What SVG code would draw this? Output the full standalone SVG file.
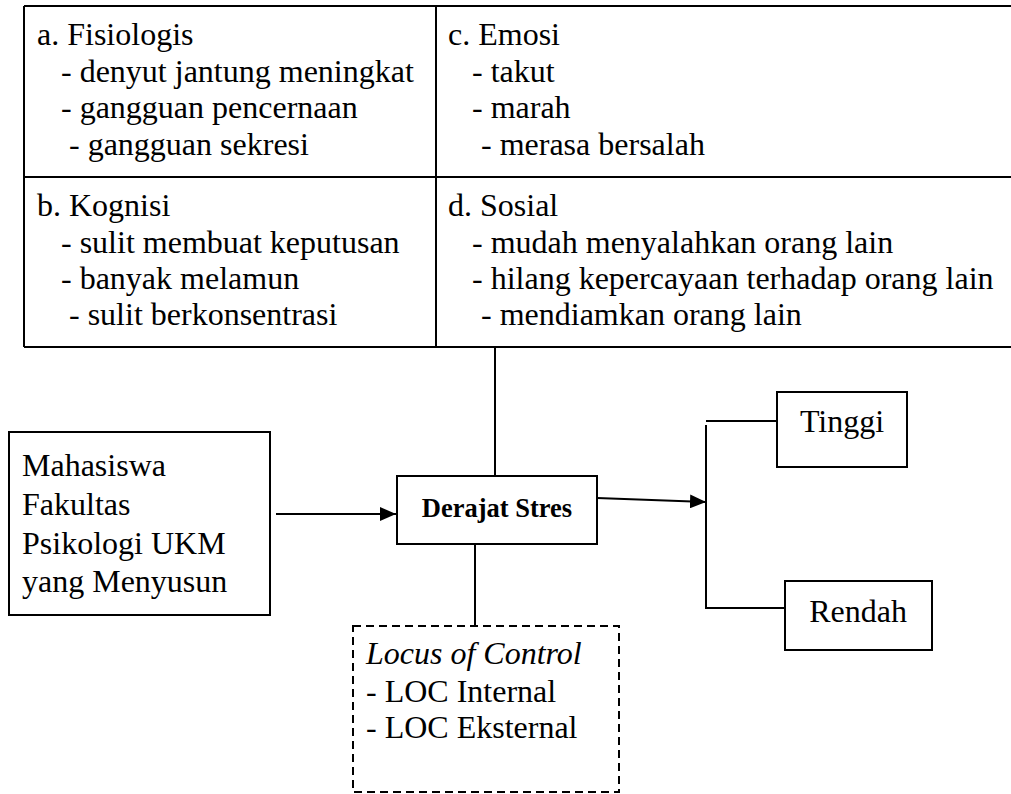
<svg xmlns="http://www.w3.org/2000/svg" width="1011" height="794" viewBox="0 0 1011 794" font-family="Liberation Serif, Times New Roman, serif">
<style>
text{font-family:'Liberation Serif','Times New Roman',Times,serif;font-size:32px;fill:#000}
.b{font-weight:bold;font-size:26.5px}
.i{font-style:italic}
.box{fill:#fff;stroke:#000;stroke-width:2}
.dash{fill:#fff;stroke:#000;stroke-width:2;stroke-dasharray:8 5}
.ln{fill:none;stroke:#000;stroke-width:2}
</style>
<defs>
<marker id="ah" viewBox="0 0 16 14" refX="16" refY="7" markerWidth="16" markerHeight="14" markerUnits="userSpaceOnUse" orient="auto">
<path d="M0,0 L16,7 L0,14 Z" fill="#000"/>
</marker>
</defs>
<rect width="1011" height="794" fill="#fff"/>
<g id="table">
<path class="ln" d="M24,6 H1011 M24,177 H1011 M24,347 H1011 M24,6 V347 M436,6 V347" stroke-width="2.5"/>
</g>
<g id="fisiologis">
<text x="37" y="45">a. Fisiologis</text>
<text x="61" y="82">- denyut jantung meningkat</text>
<text x="61" y="118">- gangguan pencernaan</text>
<text x="69" y="155">- gangguan sekresi</text>
</g>
<g id="kognisi">
<text x="37" y="216">b. Kognisi</text>
<text x="61" y="253">- sulit membuat keputusan</text>
<text x="61" y="289">- banyak melamun</text>
<text x="69" y="325">- sulit berkonsentrasi</text>
</g>
<g id="emosi">
<text x="448" y="45">c. Emosi</text>
<text x="472" y="82">- takut</text>
<text x="472" y="118">- marah</text>
<text x="481" y="155">- merasa bersalah</text>
</g>
<g id="sosial">
<text x="448" y="216">d. Sosial</text>
<text x="472" y="253">- mudah menyalahkan orang lain</text>
<text x="472" y="289">- hilang kepercayaan terhadap orang lain</text>
<text x="481" y="325">- mendiamkan orang lain</text>
</g>
<g id="connectors">
<line class="ln" x1="495" y1="347" x2="495" y2="476"/>
<line class="ln" x1="276" y1="514" x2="396" y2="514" marker-end="url(#ah)"/>
<line class="ln" x1="597" y1="498" x2="706" y2="502" marker-end="url(#ah)"/>
<line class="ln" x1="475" y1="544" x2="475" y2="626"/>
<line class="ln" x1="706" y1="421" x2="777" y2="421"/>
<polyline class="ln" points="706,425 706,608 785,608"/>
</g>
<g id="mahasiswa">
<rect class="box" x="9" y="432" width="261" height="183"/>
<text x="22" y="476">Mahasiswa</text>
<text x="22" y="515">Fakultas</text>
<text x="22" y="554">Psikologi UKM</text>
<text x="22" y="592">yang Menyusun</text>
</g>
<g id="derajat">
<rect class="box" x="397" y="476" width="200" height="68"/>
<text class="b" x="497" y="517" text-anchor="middle">Derajat Stres</text>
</g>
<g id="tinggi">
<rect class="box" x="777" y="392" width="130" height="75"/>
<text x="842" y="432" text-anchor="middle">Tinggi</text>
</g>
<g id="rendah">
<rect class="box" x="785" y="581" width="147" height="69"/>
<text x="858" y="622" text-anchor="middle">Rendah</text>
</g>
<g id="loc">
<rect class="dash" x="353" y="626" width="266" height="166"/>
<text class="i" x="366" y="664">Locus of Control</text>
<text x="366" y="702">- LOC Internal</text>
<text x="366" y="738">- LOC Eksternal</text>
</g>
</svg>
